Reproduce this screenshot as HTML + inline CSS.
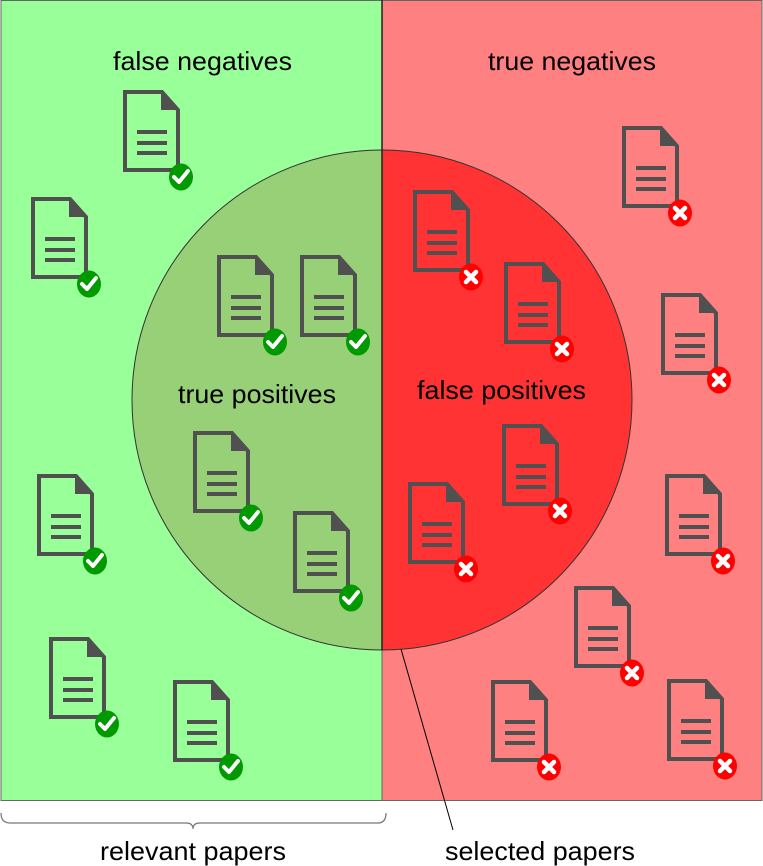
<!DOCTYPE html>
<html><head><meta charset="utf-8"><style>
html,body{margin:0;padding:0;background:#fff;}
svg{display:block;}
text{font-family:"Liberation Sans",sans-serif;font-size:26px;fill:#000;}
</style></head><body>
<svg width="763" height="866" viewBox="0 0 763 866" xmlns="http://www.w3.org/2000/svg">
<defs>
<g id="doc">
 <path d="M2,2 H39 L55,20 V80 H2 Z" fill="none" stroke="#505050" stroke-width="4"/>
 <path d="M38,0 L57,20 H38 Z" fill="#505050"/>
 <rect x="14" y="40" width="30" height="4" fill="#505050"/>
 <rect x="14" y="51" width="30" height="4" fill="#505050"/>
 <rect x="14" y="61" width="30" height="4" fill="#505050"/>
</g>
<g id="ok">
 <use href="#doc"/>
 <ellipse cx="58" cy="87" rx="12" ry="13.5" fill="#009900"/>
 <path d="M51,87 L56,92 L65,81" fill="none" stroke="#fff" stroke-width="4" stroke-linecap="round" stroke-linejoin="round"/>
</g>
<g id="bad">
 <use href="#doc"/>
 <ellipse cx="58" cy="87" rx="12" ry="13.5" fill="#ff0000"/>
 <path d="M53,82 L63,92 M63,82 L53,92" stroke="#fff" stroke-width="4.5" stroke-linecap="round"/>
</g>
</defs>
<rect x="1" y="0.5" width="381" height="800" fill="#99ff99" stroke="#666" stroke-width="1"/>
<rect x="382" y="0.5" width="380" height="800" fill="#ff8080" stroke="#666" stroke-width="1"/>
<path d="M382,150 A250,250 0 0 0 382,650 Z" fill="#97d077"/>
<path d="M382,150 A250,250 0 0 1 382,650 Z" fill="#ff3333"/>
<circle cx="382" cy="400" r="250" fill="none" stroke="#333" stroke-width="1"/>
<line x1="382" y1="0" x2="382" y2="650" stroke="#222" stroke-width="1.5"/>
<text x="113" y="70" textLength="179" lengthAdjust="spacingAndGlyphs">false negatives</text>
<text x="488" y="70" textLength="168" lengthAdjust="spacingAndGlyphs">true negatives</text>
<text x="178" y="403" textLength="158" lengthAdjust="spacingAndGlyphs">true positives</text>
<text x="417" y="399" textLength="169" lengthAdjust="spacingAndGlyphs">false positives</text>
<use href="#ok" x="123" y="90"/>
<use href="#ok" x="31" y="197"/>
<use href="#ok" x="217" y="255"/>
<use href="#ok" x="300" y="255"/>
<use href="#ok" x="193" y="431"/>
<use href="#ok" x="293" y="511"/>
<use href="#ok" x="37" y="474"/>
<use href="#ok" x="49" y="637"/>
<use href="#ok" x="173" y="680"/>
<use href="#bad" x="413" y="190"/>
<use href="#bad" x="504" y="262"/>
<use href="#bad" x="622" y="126"/>
<use href="#bad" x="661" y="293"/>
<use href="#bad" x="502" y="424"/>
<use href="#bad" x="408" y="482"/>
<use href="#bad" x="665" y="474"/>
<use href="#bad" x="574" y="586"/>
<use href="#bad" x="491" y="680"/>
<use href="#bad" x="667" y="679"/>
<line x1="401" y1="649" x2="453" y2="830" stroke="#000" stroke-width="1"/>
<path d="M1,813 Q1,823 10,823 H186 Q193,823 193,829 Q193,823 200,823 H378 Q386,823 386,813" fill="none" stroke="#777" stroke-width="1.2"/>
<text x="100" y="860" textLength="186" lengthAdjust="spacingAndGlyphs">relevant papers</text>
<text x="445" y="860" textLength="190" lengthAdjust="spacingAndGlyphs">selected papers</text>
</svg>
</body></html>
